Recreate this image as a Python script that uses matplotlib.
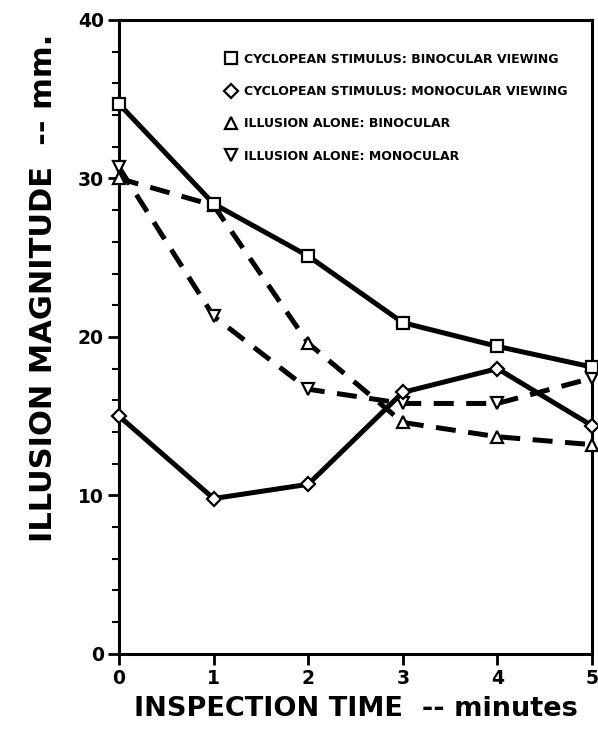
import matplotlib
matplotlib.use("Agg")
import matplotlib.pyplot as plt
from matplotlib.ticker import MultipleLocator

# inspection time (minutes)
minutes = [0, 1, 2, 3, 4, 5]

# illusion magnitude (mm) per condition
cyc_binocular = [34.7, 28.4, 25.1, 20.9, 19.4, 18.1]
cyc_monocular = [15.0, 9.8, 10.7, 16.5, 18.0, 14.4]
ill_binocular = [30.0, 28.3, 19.6, 14.6, 13.7, 13.2]
ill_monocular = [30.7, 21.3, 16.7, 15.8, 15.8, 17.4]

labels = [
    "CYCLOPEAN STIMULUS: BINOCULAR VIEWING",
    "CYCLOPEAN STIMULUS: MONOCULAR VIEWING",
    "ILLUSION ALONE: BINOCULAR",
    "ILLUSION ALONE: MONOCULAR",
]

fig = plt.figure(figsize=(5.98, 7.38), dpi=100)
ax = fig.add_axes([0.199, 0.114, 0.791, 0.859])

lw = 3.6
mk = dict(markersize=9, markerfacecolor="white", markeredgecolor="black",
          markeredgewidth=1.6, color="black", linewidth=lw, clip_on=False)

ax.plot(minutes, cyc_binocular, marker="s", linestyle="-", zorder=4, **mk)
ax.plot(minutes, cyc_monocular, marker="D", linestyle="-", zorder=4,
        **{**mk, "markersize": 7.5})
ax.plot(minutes, ill_binocular, marker="^", linestyle=(0, (4, 2.5)), zorder=3, **mk)
ax.plot(minutes, ill_monocular, marker="v", linestyle=(0, (4, 2.5)), zorder=3, **mk)

ax.set_xlim(0, 5)
ax.set_ylim(0, 40)
ax.xaxis.set_major_locator(MultipleLocator(1))
ax.yaxis.set_major_locator(MultipleLocator(10))
ax.yaxis.set_minor_locator(MultipleLocator(2))

for side in ["left", "right", "top", "bottom"]:
    ax.spines[side].set_linewidth(2.2)

ax.tick_params(axis="both", which="major", direction="out", length=8, width=2,
               labelsize=13.5, pad=3)
ax.tick_params(axis="y", which="minor", direction="out", length=5, width=1.5)
for lab in ax.get_xticklabels() + ax.get_yticklabels():
    lab.set_fontweight("bold")

ax.set_xlabel("INSPECTION TIME  -- minutes", fontsize=19.5, fontweight="bold",
              labelpad=6)
ax.set_ylabel("ILLUSION MAGNITUDE  -- mm.", fontsize=22, fontweight="bold")
ax.yaxis.set_label_coords(-0.13, 0.577)

# legend: markers only
handles = []
for m, ms in zip(["s", "D", "^", "v"], [9, 7, 9, 9]):
    h, = ax.plot([], [], marker=m, linestyle="none", markersize=ms,
                 markerfacecolor="white", markeredgecolor="black",
                 markeredgewidth=1.6)
    handles.append(h)
leg = ax.legend(handles, labels, loc="upper left", bbox_to_anchor=(0.2, 0.966),
                frameon=False, handlelength=1.0, handletextpad=0.55,
                labelspacing=1.55, prop=dict(size=9, weight="bold"))

fig.savefig("out.png", dpi=100)
